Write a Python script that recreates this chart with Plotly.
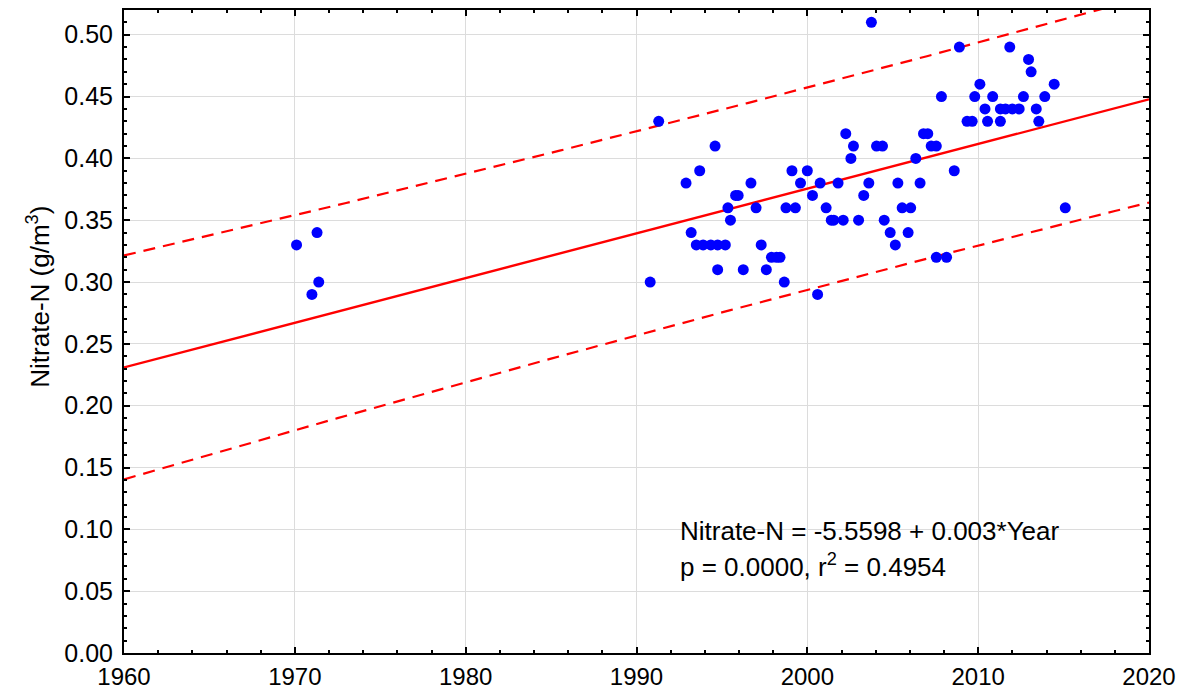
import numpy as np
import plotly.graph_objects as go

year = [1970.1, 1971.0, 1971.3, 1971.4, 1990.8, 1991.3, 1992.9, 1993.2, 1993.5, 1993.7,
        1993.9, 1994.35, 1994.6, 1994.75, 1994.75, 1995.2, 1995.35, 1995.5, 1995.8, 1995.95,
        1996.25, 1996.7, 1997.0, 1997.3, 1997.6, 1997.9, 1998.2, 1998.4, 1998.65, 1998.75,
        1999.1, 1999.3, 1999.6, 2000.0, 2000.3, 2000.6, 2000.75, 2001.1, 2001.4, 2001.55,
        2001.8, 2002.1, 2002.25, 2002.55, 2002.7, 2003.0, 2003.3, 2003.6, 2003.75, 2004.05,
        2004.4, 2004.5, 2004.85, 2005.15, 2005.3, 2005.55, 2005.9, 2006.05, 2006.35, 2006.6,
        2006.8, 2007.05, 2007.25, 2007.55, 2007.55, 2007.85, 2008.15, 2008.6, 2008.9, 2009.35,
        2009.65, 2009.8, 2010.1, 2010.4, 2010.55, 2010.85, 2011.3, 2011.3, 2011.6, 2011.85,
        2012.0, 2012.4, 2012.65, 2012.95, 2013.1, 2013.4, 2013.55, 2013.9, 2014.45, 2015.1]
nitrate = [0.33, 0.29, 0.34, 0.30, 0.30, 0.43, 0.38, 0.34, 0.33, 0.39,
           0.33, 0.33, 0.41, 0.33, 0.31, 0.33, 0.36, 0.35, 0.37, 0.37,
           0.31, 0.38, 0.36, 0.33, 0.31, 0.32, 0.32, 0.32, 0.30, 0.36,
           0.39, 0.36, 0.38, 0.39, 0.37, 0.29, 0.38, 0.36, 0.35, 0.35,
           0.38, 0.35, 0.42, 0.40, 0.41, 0.35, 0.37, 0.38, 0.51, 0.41,
           0.41, 0.35, 0.34, 0.33, 0.38, 0.36, 0.34, 0.36, 0.40, 0.38,
           0.42, 0.42, 0.41, 0.41, 0.32, 0.45, 0.32, 0.39, 0.49, 0.43,
           0.43, 0.45, 0.46, 0.44, 0.43, 0.45, 0.44, 0.43, 0.44, 0.49,
           0.44, 0.44, 0.45, 0.48, 0.47, 0.44, 0.43, 0.45, 0.46, 0.36]

eq_text = "Nitrate-N = -5.5598 + 0.003*Year"
stat_text = "p = 0.0000, r<sup>2</sup> = 0.4954"
y_title = "Nitrate-N (g/m<sup>3</sup>)"

x = np.array(year)
y = np.array(nitrate)
n = len(x)
b, a = np.polyfit(x, y, 1)
resid = y - (a + b * x)
s = np.sqrt(np.sum(resid ** 2) / (n - 2))
xm = x.mean()
sxx = np.sum((x - xm) ** 2)
t = 1.987
xf = np.linspace(1960, 2020, 121)
yf = a + b * xf
half = t * s * np.sqrt(1 + 1 / n + (xf - xm) ** 2 / sxx)

font = "Liberation Sans, Arial, sans-serif"
fig = go.Figure()
fig.add_trace(go.Scatter(x=xf, y=yf + half, mode="lines",
                         line=dict(color="#ff0000", width=2.2, dash="12px,8px"), hoverinfo="skip"))
fig.add_trace(go.Scatter(x=xf, y=yf - half, mode="lines",
                         line=dict(color="#ff0000", width=2.2, dash="12px,8px"), hoverinfo="skip"))
fig.add_trace(go.Scatter(x=xf, y=yf, mode="lines",
                         line=dict(color="#ff0000", width=2.4), hoverinfo="skip"))
fig.add_trace(go.Scatter(x=year, y=nitrate, mode="markers",
                         marker=dict(color="#0000ff", size=11, line=dict(width=0))))

fig.add_annotation(x=1992.4, y=0.0987, text=eq_text, showarrow=False, xanchor="left",
                   yanchor="middle", font=dict(size=26, color="black", family=font))
fig.add_annotation(x=1992.4, y=0.071, text=stat_text, showarrow=False, xanchor="left",
                   yanchor="middle", font=dict(size=26, color="black", family=font))
fig.add_annotation(xref="paper", yref="paper", x=-0.083, y=0.554, text=y_title, textangle=-90,
                   showarrow=False, xanchor="center", yanchor="middle",
                   font=dict(size=26, color="black", family=font))

axis_common = dict(showline=True, linecolor="black", linewidth=2, mirror="ticks",
                   ticks="inside", ticklen=6, tickwidth=2, tickcolor="black",
                   showgrid=True, gridcolor="#dcdcdc", gridwidth=1, zeroline=False,
                   automargin=False)
fig.update_xaxes(range=[1960, 2020], dtick=10, tick0=1960, ticklabelstandoff=1,
                 tickfont=dict(size=24, color="black", family=font),
                 minor=dict(ticks="inside", dtick=2, ticklen=3, tickwidth=1.5, tickcolor="black", showgrid=False),
                 **axis_common)
fig.update_yaxes(range=[0, 0.52], dtick=0.05, tick0=0, tickformat=".2f", ticklabelstandoff=4,
                 tickfont=dict(size=25, color="black", family=font),
                 minor=dict(ticks="inside", dtick=0.01, ticklen=3, tickwidth=1.5, tickcolor="black", showgrid=False),
                 **axis_common)
fig.update_layout(width=1183, height=685, margin=dict(l=116, r=42, t=2, b=40),
                  plot_bgcolor="white", paper_bgcolor="white", showlegend=False)
fig.write_html("out.html")
